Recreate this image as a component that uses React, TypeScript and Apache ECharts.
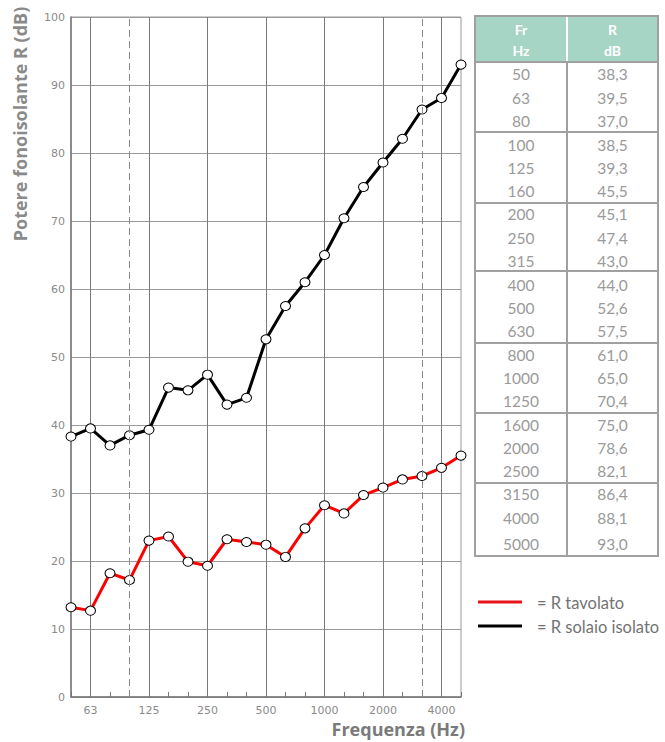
import React, { useEffect, useRef } from "react";
import * as echarts from "echarts";

const freqs = ["50", "63", "80", "100", "125", "160", "200", "250", "315", "400", "500", "630", "800", "1000", "1250", "1600", "2000", "2500", "3150", "4000", "5000"];
const rTavolato = [13.2, 12.7, 18.2, 17.2, 23.0, 23.6, 19.9, 19.3, 23.2, 22.8, 22.4, 20.6, 24.8, 28.2, 27.0, 29.7, 30.8, 32.0, 32.5, 33.7, 35.5];
const rSolaio = [38.3, 39.5, 37.0, 38.5, 39.3, 45.5, 45.1, 47.4, 43.0, 44.0, 52.6, 57.5, 61.0, 65.0, 70.4, 75.0, 78.6, 82.1, 86.4, 88.1, 93.0];
const xLabels = ["63", "125", "250", "500", "1000", "2000", "4000"];
const dashedFreqs = ["100", "3150"];
const legendNames = ["= R tavolato", "= R solaio isolato"];

export default function App() {
  const ref = useRef<HTMLDivElement>(null);
  useEffect(() => {
    document.body.style.margin = "0";
    const chart = echarts.init(ref.current!, null, { renderer: "svg" });
    const gray = "#8a8a8a";
    const txt = "#9a9a9a";
    const tL = 475, tR = 658, tM = 567, tTop = 16, hBot = 62;
    const rowYs = [74, 98, 121, 145, 168, 191, 214, 238, 261, 285, 308, 331, 355, 378, 401, 425, 448, 471, 494, 518, 544];
    const groupLines = [132, 203, 271, 343, 413, 483];
    const tBot = 556;
    const g: any[] = [];
    g.push({ type: "rect", shape: { x: tL, y: tTop, width: tR - tL, height: hBot - tTop }, style: { fill: "#a7d5c5" } });
    g.push({ type: "line", shape: { x1: tM, y1: tTop, x2: tM, y2: hBot }, style: { stroke: "#ffffff", lineWidth: 2 } });
    g.push({ type: "rect", shape: { x: tL, y: tTop, width: tR - tL, height: tBot - tTop }, style: { fill: "none", stroke: "#a0a0a0", lineWidth: 2 } });
    g.push({ type: "line", shape: { x1: tM, y1: hBot, x2: tM, y2: tBot }, style: { stroke: "#a0a0a0", lineWidth: 2 } });
    g.push({ type: "line", shape: { x1: tL, y1: hBot, x2: tR, y2: hBot }, style: { stroke: "#a0a0a0", lineWidth: 2 } });
    groupLines.forEach((y) => g.push({ type: "line", shape: { x1: tL, y1: y, x2: tR, y2: y }, style: { stroke: "#a0a0a0", lineWidth: 2 } }));
    const hdr = { fill: "#ffffff", fontSize: 14, fontWeight: "bold", fontFamily: "Lato", align: "center", verticalAlign: "middle" };
    g.push({ type: "text", x: (tL + tM) / 2, y: 29, style: { ...hdr, text: "Fr" } });
    g.push({ type: "text", x: (tL + tM) / 2, y: 50, style: { ...hdr, text: "Hz" } });
    g.push({ type: "text", x: (tM + tR) / 2, y: 29, style: { ...hdr, text: "R" } });
    g.push({ type: "text", x: (tM + tR) / 2, y: 50, style: { ...hdr, text: "dB" } });
    const cell = { fill: txt, fontSize: 15.5, fontFamily: "Lato", align: "center", verticalAlign: "middle" };
    freqs.forEach((f, i) => {
      g.push({ type: "text", x: (tL + tM) / 2, y: rowYs[i], style: { ...cell, text: f } });
      g.push({ type: "text", x: (tM + tR) / 2, y: rowYs[i], style: { ...cell, text: rSolaio[i].toFixed(1).replace(".", ",") } });
    });
    g.push({ type: "line", shape: { x1: 478, y1: 602, x2: 522, y2: 602 }, style: { stroke: "#e8141c", lineWidth: 3 } });
    g.push({ type: "line", shape: { x1: 478, y1: 626, x2: 522, y2: 626 }, style: { stroke: "#000000", lineWidth: 3 } });
    g.push({ type: "text", x: 537, y: 603, style: { text: legendNames[0], fill: "#737373", fontSize: 16.5, fontFamily: "Lato", verticalAlign: "middle" } });
    g.push({ type: "text", x: 537, y: 627, style: { text: legendNames[1], fill: "#737373", fontSize: 16.5, fontFamily: "Lato", verticalAlign: "middle" } });
    g.push({ type: "text", x: 20, y: 124, rotation: Math.PI / 2, style: { text: "Potere fonoisolante R (dB)", fill: "#8a8a8a", fontSize: 18, fontWeight: "bold", fontFamily: "Open Sans", align: "center", verticalAlign: "middle" } });
    g.push({ type: "text", x: 465, y: 729, style: { text: "Frequenza (Hz)", fill: "#7a7a7a", fontSize: 18, fontWeight: "bold", fontFamily: "Open Sans", align: "right", verticalAlign: "middle" } });

    const marker = { color: "#ffffff", borderColor: "#000000", borderWidth: 1 };
    chart.setOption({
      animation: false,
      grid: { left: 71, top: 17, right: 204, bottom: 45, show: true, borderColor: "#999999", borderWidth: 1 },
      xAxis: {
        type: "category",
        data: freqs,
        boundaryGap: false,
        axisLine: { lineStyle: { color: "#777777", width: 1.5 } },
        axisTick: { show: true, inside: true, length: 5, interval: 0, lineStyle: { color: "#777777" } },
        axisLabel: { interval: (i: number, v: string) => xLabels.includes(v), color: gray, fontSize: 11, fontFamily: "DejaVu Sans", margin: 8 },
        splitLine: { show: true, interval: (i: number, v: string) => xLabels.includes(v), lineStyle: { color: "#7a7a7a", width: 1 } },
      },
      yAxis: {
        type: "value",
        min: 0,
        max: 100,
        interval: 10,
        axisLine: { show: true, lineStyle: { color: "#777777", width: 1.5 } },
        axisTick: { show: false },
        axisLabel: { color: gray, fontSize: 11, fontFamily: "DejaVu Sans", margin: 6 },
        splitLine: { show: true, lineStyle: { color: "#9a9a9a", width: 1 } },
      },
      graphic: g,
      series: [
        {
          type: "line",
          data: rTavolato,
          lineStyle: { color: "#ff0000", width: 3 },
          symbol: "circle",
          symbolSize: [10, 9],
          itemStyle: marker,
          z: 3,
          markLine: {
            silent: true,
            symbol: "none",
            label: { show: false },
            lineStyle: { type: [7, 4], color: "#8a8a8a", width: 1 },
            data: dashedFreqs.map((f) => ({ xAxis: f })),
          },
        },
        {
          type: "line",
          data: rSolaio,
          lineStyle: { color: "#000000", width: 3 },
          symbol: "circle",
          symbolSize: [10, 9],
          itemStyle: marker,
          z: 4,
        },
      ],
    });
    return () => chart.dispose();
  }, []);
  return <div ref={ref} style={{ width: 665, height: 742 }} />;
}
